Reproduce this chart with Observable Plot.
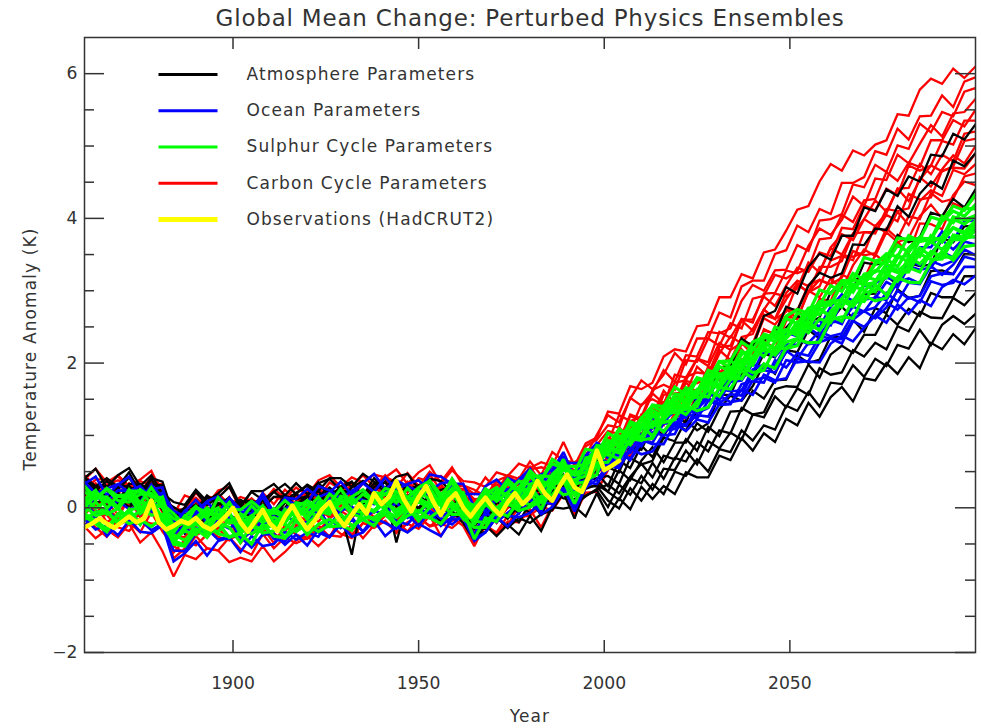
<!DOCTYPE html>
<html>
<head>
<meta charset="utf-8">
<script src="https://cdn.jsdelivr.net/npm/d3@7"></script>
<script src="https://cdn.jsdelivr.net/npm/@observablehq/plot@0.6"></script>
<style>
  html, body { margin: 0; padding: 0; background: #fff; }
  /* wide, airy lettering for the titles and legend */
  g[font-size="23"] text { letter-spacing: 0.8px; }
  g[font-size="17"] text { letter-spacing: 1.1px; }
</style>
</head>
<body>
<div id="chart"></div>
<script>
// Ensemble runs: global mean temperature anomaly in hundredths of a kelvin,
// one value every 3 years from 1860 to 2100 (81 values per run).
const runStart = 1860;
const runStep = 3;

const atmosphereRuns = [
  [24,7,12,21,7,-2,17,0,-19,-36, -12,-21,1,-19,-15,-6,-20,-6,-10,8, -13,9,-2,19,-2,6,17,-3,11,2, 12,-5,-19,-4,-21,-45,-24,-39,-23,-37, -11,-32,1,-1,2,-12,20,
   -11,13,-2,29,12,30,19,49,42, 42,72,66,96,79,103,91,123, 114,145,126,153,167,147,179,176, 200,185,208,193,228,219,240,226,248],
  [18,29,30,10,25,31,17,1,-13,-16, 4,-18,5,9,-14,-2,15,-10,0,19, 7,24,1,22,24,6,21,10,26,11, 0,17,3,-12,-1,-39,-33,-13,-28,-14, -21,-9,-3,21,-15,29,30,
   10,-1,27,10,33,19,50,44,67, 50,81,77,107,93,114,108,141, 134,160,140,173,171,197,181,206, 196,225,220,246,225,253,265,254,268],
  [39,23,37,25,42,19,32,31,-22,-3, -4,14,7,-2,8,10,4,22,10,21, 30,16,28,14,28,37,23,36,16,30, 21,36,6,18,-7,-14,0,-17,-8,-20, 7,-8,23,13,12,17,24,
   1,32,18,44,25,54,52,79,60, 92,82,104,94,129,125,154,139, 165,156,193,184,187,218,209,228, 219,251,244,271,263,262,290,280,297],
  [10,26,16,4,30,12,33,5,-15,0, -10,0,-7,14,-8,-12,11,-5,18,1, 15,8,25,15,6,23,6,22,-48,9, 18,4,17,-3,1,-29,-29,-4,-14,3, -7,9,11,31,24,26,32,
   22,11,41,34,62,40,69,64,91, 78,107,103,138,129,132,164,168, 167,198,180,212,224,214,239,239, 267,253,275,265,297,291,291,320,320],
  [42,30,41,29,49,21,41,36,-10,0, 22,4,14,29,0,23,23,33,17,34, 19,34,40,25,36,16,41,25,28,15, 31,21,3,27,11,-26,-4,-11,9,-8, 15,-11,22,25,4,16,26,
   32,20,43,61,42,72,67,95,79, 112,99,133,134,162,151,176,177, 211,200,205,237,235,260,243,276, 269,302,290,293,327,328,323,351,350],
  [1,22,2,13,1,10,23,-3,-28,-8, -15,-2,-18,-2,-6,-20,-6,-23,-3,-7, 7,-7,1,-6,-65,14,6,21,2,12, -2,19,15,2,-10,-12,-15,-3,-15,4, 21,-3,19,41,6,44,38,
   22,52,38,65,84,63,90,90,117, 105,136,155,148,168,199,185,218, 215,246,234,258,278,262,295,296, 321,308,338,334,336,373,367,389,390],
  [41,25,12,30,30,14,40,14,-22,-2, 4,-9,16,2,11,3,0,15,16,12, 16,35,15,29,36,12,34,22,36,25, 31,14,25,29,2,-18,6,-12,4,-6, 20,4,38,27,30,40,41,
   44,33,69,60,65,97,92,121,107, 117,156,156,191,182,213,208,249, 265,256,263,298,308,302,339,336, 339,377,367,374,408,403,427,415,440],
  [41,54,28,45,55,30,45,20,8,4, 25,9,20,34,3,22,11,22,33,19, 32,23,41,41,29,47,36,28,43,47, 26,40,37,21,4,-3,3,-8,15,4, 18,26,21,46,20,55,48,
   30,65,55,86,70,102,117,107,134, 161,154,188,184,228,231,240,278, 272,307,325,318,324,364,363,386, 384,417,402,434,451,441,480,472,490],
  [35,18,24,9,33,33,23,9,1,-9, -3,17,4,14,-14,2,13,-14,7,5, 16,5,1,24,20,5,29,35,17,25, 19,35,12,4,13,-16,-17,7,3,22, 11,20,42,37,37,39,68,
   56,49,85,80,113,99,125,118,154, 153,194,194,234,223,265,272,305, 296,333,351,343,376,376,415,410, 440,431,458,451,488,486,517,509,530]
];

const oceanRuns = [
  [36,20,26,33,21,8,32,15,-25,-4, -9,8,-8,8,-5,-8,15,-11,14,12, 26,15,21,36,18,34,47,26,38,30, 23,46,43,33,33,1,30,39,24,39, 54,30,60,62,62,63,86,
   83,74,99,96,124,119,120,147,152, 151,181,177,179,209,215,215,242, 237,262,250,278,295,286,307,309, 336,328,333,360,360,382,369,396,397],
  [-25,-11,-39,-24,-16,-33,-35,-24,-74,-63, -46,-66,-46,-41,-61,-39,-53,-50,-33,-44, -34,-40,-16,-28,-16,-33,-14,-6,-18,-23, -4,-6,-25,-13,-5,-43,-34,-11,-11,-13, -7,8,5,28,-5,28,39,
   58,55,82,74,78,103,116,106,122, 118,143,144,163,156,184,176,179, 206,202,201,227,238,230,249,266, 256,281,268,287,279,305,315,309,321],
  [32,17,8,24,23,30,14,21,-4,-12, -5,9,16,2,-15,9,0,-19,-1,5, -10,12,-2,-4,15,0,13,-3,18,11, 7,6,18,30,7,-1,10,26,11,39, 45,27,48,71,39,73,70,
   63,89,86,110,99,119,134,124,150, 161,153,184,181,187,218,209,226, 225,252,258,252,285,283,286,311, 318,314,343,335,352,370,357,373,385],
  [-18,-6,-2,-18,-18,-3,-2,-23,-37,-24, -28,-35,-17,-12,-44,-33,-21,-43,-47,-28, -26,-34,-41,-22,-13,-33,-14,-21,-29,-9, -25,-4,-15,-23,-10,-37,-5,-20,-7,6, 13,-6,28,26,25,28,48,
   63,57,81,94,88,88,116,115,128, 126,155,146,149,176,180,173,204, 201,203,229,234,227,258,250,266, 284,274,291,284,313,308,311,333,333],
  [33,43,17,32,43,18,26,28,-21,-5, 11,-6,-7,14,-2,-2,20,-6,13,4, 7,30,24,13,23,34,22,42,25,33, 38,23,34,36,19,19,18,19,41,34, 35,46,52,77,42,72,90,
   80,72,76,102,102,124,114,135,134, 159,148,174,176,199,192,197,224, 224,249,238,260,254,285,288,290, 312,304,334,329,332,354,346,375,374],
  [-15,-30,-24,-38,-18,-17,-31,-22,-59,-60, -35,-29,-44,-39,-40,-55,-37,-36,-51,-37, -52,-30,-40,-23,-40,-34,-18,-39,-26,-34, -22,-31,-39,-16,-14,-46,-34,-13,-26,-7, 12,-9,1,25,3,35,33,
   54,77,66,90,104,100,102,132,123, 148,142,143,171,175,173,204,194, 214,210,237,234,233,260,272,262, 277,300,289,293,320,324,323,347,343],
  [-2,14,11,-1,16,-9,5,5,-44,-31, -33,-18,-21,-29,-15,-17,-24,-13,-18,3, -3,-7,12,-5,14,11,5,23,14,9, 27,17,6,29,9,0,-4,13,25,14, 34,35,28,56,30,53,81,
   69,63,92,85,112,107,109,133,131, 138,164,161,162,191,198,192,215, 233,226,228,256,258,278,271,292, 287,312,317,310,341,335,341,368,364],
  [7,-9,-6,10,-2,2,-5,6,-28,-34, -3,-20,-21,-8,-25,-10,-29,-19,-10,-20, -20,-2,-24,-4,2,-17,-4,-9,8,-14, -7,7,-13,-2,11,-17,-12,13,4,3, 31,11,47,42,35,38,73,
   58,80,67,94,90,117,116,113,137, 151,144,157,155,186,190,187,217, 206,228,244,237,241,268,272,277, 297,285,311,309,334,322,336,357,349]
];

const sulphurRuns = [
  [3,-11,-6,-19,-3,0,-10,-9,-48,-29, -22,-33,-9,-20,-22,-11,-20,-13,-21,-2, -11,6,-6,11,-7,3,-6,8,-3,7, -7,10,-8,8,-10,-17,5,-6,13,3, 28,9,38,37,39,44,73,
   75,67,96,93,119,105,125,142,134, 139,166,164,190,179,199,193,221, 233,228,229,260,264,262,293,286, 290,318,312,311,339,354,342,361,363],
  [-7,8,-9,-1,-14,-5,8,-20,-37,-45, -29,-41,-21,-41,-34,-25,-35,-32,-30,-10, -28,-10,0,-17,-7,2,-4,11,-9,7, 11,6,15,1,3,-23,6,-9,10,9, 31,8,33,35,33,36,62,
   63,87,103,94,96,122,137,129,147, 163,154,177,195,187,190,221,220, 224,253,246,265,258,287,285,308, 294,319,332,326,354,346,347,373,375],
  [14,-1,10,-1,17,-8,3,2,-44,-32, -37,-19,-10,-21,-13,-27,-11,-27,-6,-8, 5,-4,-9,16,11,-3,21,19,7,27, 12,28,4,23,7,3,5,18,4,23, 25,37,32,56,31,64,59,
   81,76,92,114,99,127,140,137,140, 172,165,186,178,202,222,211,229, 234,256,245,272,286,278,298,299, 324,313,335,351,343,344,371,370,383],
  [12,24,-1,17,18,6,28,5,-8,-24, 1,-7,-11,7,-18,3,-13,-7,-8,4, -15,3,7,-3,14,-2,-4,10,15,-2, 8,0,15,18,1,-3,3,24,18,17, 44,27,39,67,30,64,82,
   73,97,87,109,127,118,122,150,153, 154,185,178,179,207,219,215,234, 251,242,261,256,287,284,310,299, 323,315,347,337,354,347,377,374,389],
  [29,14,15,1,23,23,6,1,-24,-14, -22,-5,-15,-7,-36,-19,-7,-28,-2,-12, -5,-12,4,13,-3,-7,21,9,15,2, 24,11,11,27,4,0,22,9,21,37, 32,40,61,54,47,55,86,
   84,78,107,121,112,125,146,137,160, 153,181,182,204,197,227,220,237, 253,248,275,263,287,280,309,311, 331,325,326,353,368,357,375,372,393],
  [-16,-6,-4,-22,-2,-23,2,-13,-47,-26, -18,-28,-33,-17,-24,-36,-25,-22,-41,-29, -24,-33,-24,-9,-25,-16,-25,-4,-13,0, -18,1,5,-9,-9,-18,-21,-3,6,0, 22,-2,29,44,17,32,60,
   77,99,89,115,111,141,133,136,162, 175,167,193,194,221,209,229,246, 238,261,276,264,289,307,300,313, 337,327,340,359,348,374,387,378,395],
  [22,11,26,10,8,19,20,0,-15,-20, -14,0,-13,7,-18,-23,-2,-6,-14,5, -16,8,-3,7,15,-2,14,0,22,5, 15,26,3,16,21,-17,17,13,34,21, 43,44,43,58,57,60,70,
   92,86,105,98,129,129,132,162,156, 175,170,203,193,209,229,218,246, 242,271,267,286,277,304,320,315, 318,345,349,347,376,367,387,381,397],
  [-8,-18,-29,-8,-8,-23,3,-24,-46,-51, -19,-37,-21,-27,-48,-24,-30,-23,-23,-33, -22,-8,-26,-25,-8,-14,-14,-1,-23,-4, -12,-14,-2,6,-15,-27,-27,-4,-12,10, 4,16,18,37,6,38,46,
   93,86,116,111,113,139,153,145,164, 166,195,190,192,219,219,244,235, 257,251,283,285,287,316,310,328, 325,349,339,371,372,372,399,392,404],
  [0,17,9,1,25,7,7,15,-34,-12, 2,-15,14,-2,-3,9,-4,-5,10,-3, -2,15,-7,10,-9,9,7,-1,15,4, 14,3,10,0,13,-15,15,-1,15,24, 26,33,29,53,45,49,68,
   78,107,101,124,112,140,144,166,157, 185,180,184,212,219,217,250,244, 246,275,279,281,310,298,323,326, 344,333,359,374,368,374,402,398,404],
  [30,12,27,16,13,25,15,14,-34,-11, -19,-8,0,-21,-8,-17,-15,-1,-11,0, 10,0,6,26,5,19,9,27,22,12, 15,37,18,35,10,3,26,17,39,24, 51,37,67,57,49,81,78,
   91,88,119,113,135,126,157,156,160, 190,184,190,217,206,235,241,243, 269,265,285,280,312,309,310,339, 338,363,353,373,371,403,394,414,413],
  [-12,-22,-33,-10,-22,-16,-26,-14,-50,-53, -32,-25,-36,-40,-36,-50,-22,-39,-42,-17, -37,-23,-16,-24,-31,-7,-17,-9,-24,-11, -4,-14,-22,-3,-3,-43,-14,-19,6,-4, 1,9,30,18,21,34,58,
   84,109,97,124,141,132,152,150,177, 177,202,194,200,229,236,230,262, 254,276,280,307,299,324,315,337, 351,347,376,368,371,396,410,403,419],
  [4,21,12,-1,24,0,10,-14,-27,-20, -22,-27,-2,-7,-31,-12,3,-20,-10,7, 4,-3,19,7,15,25,9,19,30,14, 28,37,12,40,17,-7,19,28,13,28, 47,22,46,61,29,69,72,
   103,95,115,111,142,140,167,156,180, 175,202,203,229,219,240,235,265, 274,269,301,296,314,314,346,341, 346,373,371,371,402,397,417,411,433]
];

const carbonRuns = [
  [-26,-42,-30,-41,-22,-48,-34,-60,-95,-65, -71,-56,-59,-75,-69,-74,-53,-74,-61,-45, -39,-53,-38,-40,-23,-42,-24,-19,-33,-22, -29,-11,-39,-14,-25,-53,-22,-37,-19,-20, -2,-27,3,20,-10,21,22,
   52,86,71,100,123,102,131,119,160, 148,187,184,219,202,231,220,258, 275,256,289,286,322,315,316,350, 338,368,351,393,392,385,421,414,430],
  [-24,-10,-10,-27,-32,-17,-22,-22,-70,-56, -39,-56,-59,-41,-57,-65,-36,-56,-41,-49, -42,-24,-40,-15,-37,-21,-26,-11,-18,-33, -13,-25,-16,-18,-9,-50,-25,-34,-11,-13, -11,2,-4,19,11,17,25,
   77,66,104,93,95,130,130,162,143, 175,167,204,205,203,247,239,265, 261,300,291,317,302,335,357,348, 381,367,373,403,419,400,432,451,446],
  [-15,-27,-40,-19,-20,-34,-6,-33,-53,-62, -38,-30,-40,-45,-30,-37,-27,-49,-24,-37, -43,-29,-23,-36,-42,-21,-28,-18,-35,-20, -13,-26,-22,-28,-15,-30,-29,-14,-24,2, 2,7,5,38,4,32,54,
   65,94,77,113,119,114,155,142,158, 187,177,196,228,212,245,241,275, 261,298,315,309,318,355,349,352, 386,372,403,399,435,423,427,458,462],
  [-9,6,-20,-10,-20,-9,-1,-24,-62,-44, -52,-37,-29,-44,-36,-54,-38,-35,-46,-25, -17,-32,-15,-4,-14,1,-13,-6,7,-11, -15,2,6,-7,-15,-26,-2,-21,2,-3, 20,0,9,38,18,27,56,
   81,77,109,92,125,141,132,156,147, 194,188,192,226,223,262,253,274, 273,308,315,308,349,347,353,390, 380,409,391,424,439,431,467,461,475],
  [8,-5,0,-14,14,-2,-3,9,-37,-25, -9,-26,-1,-13,-28,-2,-18,-17,-6,-25, -11,-19,-2,-21,-10,-7,-25,-9,-17,-4, -21,1,-16,-16,1,-34,-7,-19,0,13, 3,15,33,29,17,52,47,
   65,93,116,103,109,144,143,173,159, 195,182,218,228,227,267,261,271, 309,298,306,342,348,342,381,381, 405,396,434,426,429,466,470,469,490],
  [-6,8,7,-9,13,-13,2,-25,-37,-41, -20,-38,-28,-16,-49,-30,-32,-20,-33,-10, -18,4,-14,3,-9,15,16,5,-1,18, 11,5,19,16,0,-27,7,6,0,23, 16,24,18,45,32,35,62,
   93,83,108,99,138,146,137,175,172, 181,218,204,236,240,274,261,288, 310,297,333,333,341,379,381,379, 413,410,414,457,444,468,487,476,500],
  [18,4,14,18,4,4,21,-6,-45,-21, -25,-7,-24,-11,-18,-31,-15,-7,-15,10, 1,-1,19,3,20,12,31,13,24,10, 29,22,6,28,26,-10,1,25,14,22, 37,14,44,62,26,53,80,
   78,111,98,129,117,156,158,159,195, 181,213,237,227,247,274,261,297, 314,306,327,359,350,379,399,389, 407,441,424,453,473,465,472,507,510],
  [14,32,15,8,29,33,18,21,-23,1, 14,0,-5,13,-6,-11,11,-18,-2,-7, 7,-3,-12,13,-6,4,-7,13,6,1, -6,18,16,10,-1,-4,8,4,30,19, 39,20,52,53,52,53,72,
   94,88,127,120,127,162,144,181,187, 185,222,224,259,245,274,296,292, 303,339,325,360,378,370,399,425, 409,441,442,475,461,488,479,517,520],
  [22,3,8,17,1,14,11,18,-25,-26, 1,-2,-9,13,-12,-1,18,-9,8,17, -4,20,8,28,19,6,29,18,12,32, 25,12,28,26,13,11,11,10,31,33, 32,47,46,67,33,70,79,
   97,92,129,123,158,144,173,176,206, 196,228,218,260,260,292,279,307, 332,326,353,348,387,385,418,411, 441,432,473,466,473,507,502,535,535],
  [22,34,6,23,23,6,32,2,-15,-20, -21,-5,5,-11,-15,5,-11,-2,8,-5, 17,9,17,10,34,16,33,40,17,36, 22,46,24,22,33,8,7,32,26,42, 34,38,40,68,50,53,87,
   106,102,107,143,150,142,184,180,206, 201,243,235,261,256,296,297,328, 324,331,371,373,405,395,425,427, 464,452,477,471,508,508,536,527,550],
  [37,19,31,38,29,19,44,28,-9,17, 11,4,24,29,-2,13,0,15,11,6, 20,10,-1,22,20,6,32,16,10,28, 22,19,32,15,26,12,13,37,20,33, 57,34,58,54,58,71,76,
   91,128,120,126,163,170,163,204,202, 234,224,255,248,289,293,322,317, 327,362,386,377,398,430,417,455, 453,488,476,503,529,513,545,547,565],
  [25,39,40,20,34,13,38,16,-2,-15, 8,-10,0,15,-20,-1,8,-8,-9,19, 9,28,9,28,14,34,25,43,35,21, 41,36,44,30,31,25,16,37,44,34, 53,56,52,76,43,85,94,
   114,111,152,141,160,190,174,211,209, 243,241,248,286,308,300,328,329, 363,355,397,399,406,447,443,474, 464,501,496,531,519,547,541,575,580],
  [45,30,31,44,26,37,30,33,-20,-1, -2,16,12,1,7,-6,21,5,25,11, 23,14,35,26,29,45,29,45,28,48, 30,50,36,56,30,19,42,25,45,40, 64,45,77,65,63,72,101,
   128,118,151,176,164,184,214,198,234, 234,270,263,306,314,314,351,356, 390,381,413,406,449,449,457,493, 488,524,509,541,542,570,554,589,595],
  [39,54,35,45,30,39,51,19,-1,-3, 21,2,20,4,15,10,7,26,13,28, 17,38,45,29,42,35,46,42,53,33, 49,59,33,52,37,35,29,49,44,61, 55,63,58,91,58,89,97,
   133,130,168,164,173,209,219,216,251, 253,291,291,323,317,353,357,383, 412,417,451,475,466,494,487,502, 508,544,542,578,593,586,607,594,610]
];

// HadCRUT2 observations, hundredths of a kelvin, every 2 years from 1860 to 2004.
const obsStart = 1860;
const obsStep = 2;
const observations = [
  -27,-22,-15,-22,-28,-20,-12,-20,-15,10,
  -20,-30,-25,-18,-22,-14,-25,-30,-22,-12,
  0,-20,-33,-18,-3,-22,-32,-12,3,-15,
  -30,-18,-2,8,-12,-25,-10,5,-8,20,
  5,15,37,12,-5,15,30,8,-10,10,
  20,0,-12,2,14,0,-10,8,20,5,
  15,37,20,10,30,46,28,22,45,79,
  52,58,65
];

const xTicks = [1900, 1950, 2000, 2050];
const yMajorTicks = [-2, 0, 2, 4, 6];
const yMinorTicks = [-1.5, -1, -0.5, 0.5, 1, 1.5, 2.5, 3, 3.5, 4.5, 5, 5.5];

const titleText = "Global Mean Change: Perturbed Physics Ensembles";
const xLabel = "Year";
const yLabel = "Temperature Anomaly (K)";

const legendLabels = [
  "Atmosphere Parameters",
  "Ocean Parameters",
  "Sulphur Cycle Parameters",
  "Carbon Cycle Parameters",
  "Observations (HadCRUT2)"
];
const legendColors = ["#000000", "#0000ff", "#00ff00", "#ff0000", "#ffff00"];

// Turn a set of runs into long-form rows for Plot.line
function runsToRows(runs, name) {
  return runs.flatMap((run, m) =>
    run.map((v, i) => ({run: `${name}-${m}`, year: runStart + runStep * i, anomaly: v / 100}))
  );
}

// drawing order: carbon, atmosphere, ocean, sulphur, then observations on top
const ensembles = [
  {rows: runsToRows(carbonRuns, "carbon"), color: "#ff0000", width: 2.3},
  {rows: runsToRows(atmosphereRuns, "atmosphere"), color: "#000000", width: 2.3},
  {rows: runsToRows(oceanRuns, "ocean"), color: "#0000ff", width: 2.6},
  {rows: runsToRows(sulphurRuns, "sulphur"), color: "#00ff00", width: 3.2}
];
const obsRows = observations.map((v, i) => ({year: obsStart + obsStep * i, anomaly: v / 100}));

const W = 981, H = 728;
const M = {top: 37, right: 6, bottom: 76, left: 84};
const frameW = W - M.left - M.right;   // 891
const frameH = H - M.top - M.bottom;   // 615
const axisColor = "#333";
const rowGap = 36.25;

const marks = [];

for (const g of ensembles) {
  marks.push(Plot.line(g.rows, {
    x: "year", y: "anomaly", z: "run", stroke: g.color, strokeWidth: g.width,
    strokeLinejoin: "miter", strokeMiterlimit: 2, clip: true
  }));
}
marks.push(Plot.line(obsRows, {x: "year", y: "anomaly", stroke: "#ffff00", strokeWidth: 4.5, clip: true}));

// frame and inward ticks on all four sides
marks.push(Plot.frame({stroke: axisColor, strokeWidth: 1.5}));
marks.push(Plot.ruleX(xTicks, {x: d => d, insetTop: frameH - 12, stroke: axisColor, strokeWidth: 1.5}));
marks.push(Plot.ruleX(xTicks, {x: d => d, insetBottom: frameH - 12, stroke: axisColor, strokeWidth: 1.5}));
marks.push(Plot.ruleY(yMajorTicks, {y: d => d, insetRight: frameW - 20, stroke: axisColor, strokeWidth: 1.5}));
marks.push(Plot.ruleY(yMinorTicks, {y: d => d, insetRight: frameW - 10, stroke: axisColor, strokeWidth: 1.5}));
marks.push(Plot.ruleY(yMajorTicks, {y: d => d, insetLeft: frameW - 20, stroke: axisColor, strokeWidth: 1.5}));
marks.push(Plot.ruleY(yMinorTicks, {y: d => d, insetLeft: frameW - 10, stroke: axisColor, strokeWidth: 1.5}));

// tick labels
marks.push(Plot.text(xTicks, {
  x: d => d, text: d => String(d), frameAnchor: "bottom", lineAnchor: "middle",
  dy: 31, fontSize: 17.2, fill: axisColor
}));
marks.push(Plot.text(yMajorTicks, {
  y: d => d, text: d => (d < 0 ? "\u2212" + Math.abs(d) : String(d)),
  frameAnchor: "left", lineAnchor: "middle", dx: -7, textAnchor: "end", fontSize: 17.2, fill: axisColor
}));

// titles
marks.push(Plot.text([titleText], {text: d => d, frameAnchor: "top", lineAnchor: "middle", dy: -19, fontSize: 23, fill: axisColor}));
marks.push(Plot.text([xLabel], {text: d => d, frameAnchor: "bottom", lineAnchor: "middle", dy: 64, fontSize: 17, fill: axisColor}));
marks.push(Plot.text([yLabel], {
  text: d => d, frameAnchor: "left", lineAnchor: "middle", textAnchor: "middle",
  dx: -54, dy: 4, rotate: -90, fontSize: 17, fill: axisColor
}));

// legend
legendLabels.forEach((label, i) => {
  const cy = 37 + rowGap * i;
  const half = i === 4 ? 2.5 : 1.5;
  marks.push(Plot.frame({
    fill: legendColors[i], stroke: "none",
    insetLeft: 74, insetRight: frameW - 133,
    insetTop: cy - half, insetBottom: frameH - cy - half
  }));
  marks.push(Plot.text([label], {
    text: d => d, frameAnchor: "top-left", lineAnchor: "middle", dx: 162, dy: cy,
    textAnchor: "start", fontSize: 17, fill: axisColor
  }));
});

const chart = Plot.plot({
  width: W,
  height: H,
  marginTop: M.top,
  marginRight: M.right,
  marginBottom: M.bottom,
  marginLeft: M.left,
  x: {domain: [1860, 2100], axis: null},
  y: {domain: [-2, 6.5], axis: null},
  style: {fontFamily: "'DejaVu Sans', sans-serif", background: "#fff", color: axisColor, overflow: "visible"},
  marks
});

document.getElementById("chart").append(chart);
</script>
</body>
</html>
